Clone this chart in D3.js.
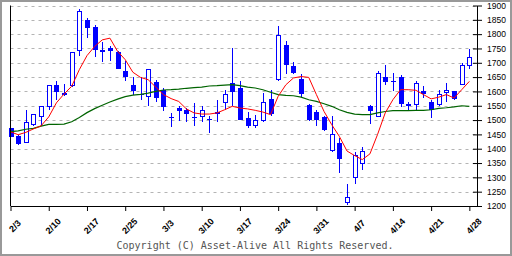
<!DOCTYPE html>
<html>
<head>
<meta charset="utf-8">
<script src="https://cdn.jsdelivr.net/npm/d3@7"></script>
<style>
  body { margin: 0; background: #fff; }
  svg { display: block; }
</style>
</head>
<body>
<div id="chart"></div>
<script>
// daily candles, 2/3 .. 4/28 (one slot per weekday)
const open  = [1473,1445,1420,1486,1514,1549,1623,1595,1619,1744,1850,1826,1746,1753,1738,1672,1624,1590,1581,1632,
               1604,1511,1543,1536,1511,1511,1504,1522,1560,1629,1612,1506,1481,1500,1575,1640,1763,1690,1644,1554,
               1529,1511,1394,1420,1213,1301,1347,1550,1511,1651,1637,1651,1557,1556,1602,1564,1556,1595,1602,1623,1689]
const high  = [1474,1447,1536,1522,1550,1620,1638,1627,1738,1889,1857,1832,1771,1759,1740,1705,1652,1652,1679,1640,
               1612,1525,1550,1543,1561,1550,1515,1571,1604,1751,1637,1529,1519,1596,1606,1827,1777,1704,1661,1556,
               1536,1515,1515,1438,1278,1390,1407,1551,1671,1693,1663,1658,1562,1637,1619,1570,1605,1628,1603,1699,1749]
const low   = [1440,1413,1419,1478,1480,1534,1571,1585,1615,1722,1785,1720,1704,1707,1678,1635,1588,1571,1548,1563,
               1533,1476,1498,1492,1480,1495,1454,1494,1536,1548,1500,1473,1471,1492,1513,1638,1661,1662,1580,1498,
               1480,1463,1390,1314,1203,1276,1324,1486,1510,1622,1602,1544,1530,1536,1577,1506,1548,1564,1570,1622,1677]
const close = [1441,1415,1490,1521,1549,1619,1597,1586,1737,1880,1823,1746,1736,1742,1680,1649,1602,1587,1678,1576,
               1544,1511,1530,1520,1511,1535,1504,1525,1591,1597,1500,1478,1500,1560,1522,1795,1694,1663,1590,1499,
               1499,1464,1448,1363,1228,1376,1392,1532,1661,1633,1632,1556,1548,1626,1592,1536,1589,1602,1574,1689,1717]

// moving averages (short = red, long = green)
const maShort = [1459,1449,1457,1469,1480,1511,1560,1591,1618,1676,1725,1757,1780,1786,1740,1711,1667,1649,1641,1615,
                 1589,1575,1565,1539,1525,1521,1521,1525,1536,1548,1542,1539,1534,1528,1519,1583,1623,1647,1652,1649,
                 1589,1530,1484,1443,1392,1376,1362,1382,1450,1525,1571,1606,1606,1604,1589,1574,1580,1589,1577,1606,1635]
const maLong  = [1460,1462,1468,1471,1479,1485,1485,1486,1494,1509,1526,1540,1552,1563,1573,1582,1587,1590,1594,1600,
                 1605,1606,1608,1611,1613,1615,1619,1620,1622,1624,1620,1615,1612,1606,1597,1589,1586,1585,1580,1571,
                 1565,1557,1548,1536,1527,1521,1519,1519,1525,1530,1533,1533,1533,1534,1534,1536,1541,1543,1546,1550,1548]

const tickLabels = ["2/3","2/10","2/17","2/25","3/3","3/10","3/17","3/24","3/31","4/7","4/14","4/21","4/28"]
const priceTicks = d3.range(1200, 1901, 50)

const WIDTH = 512
const HEIGHT = 256
const plot = {left: 10.5, right: 477, top: 5.5, bottom: 206}

const svg = d3.select("#chart")
    .append("svg")
    .attr("width", WIDTH)
    .attr("height", HEIGHT)

svg.append("rect")
    .attr("x", 1).attr("y", 1)
    .attr("width", WIDTH - 2).attr("height", HEIGHT - 2)
    .attr("fill", "#fff")
    .attr("stroke", "#999")
    .attr("stroke-width", 2)

const x = d3.scaleLinear()
    .domain([0, close.length])
    .range([plot.left, plot.right])

const y = d3.scaleLinear()
    .domain([1200, 1900])
    .range([plot.bottom, plot.top])

// dashed grid
svg.append("g")
    .selectAll("line")
    .data(priceTicks.slice(1))
    .enter()
    .append("line")
    .attr("x1", plot.left)
    .attr("x2", plot.right)
    .attr("y1", d => Math.round(y(d)) + 0.5)
    .attr("y2", d => Math.round(y(d)) + 0.5)
    .attr("stroke", "#b4b4b4")
    .attr("stroke-dasharray", "3,4")

// candles
const candles = svg.append("g").attr("shape-rendering", "crispEdges")
const idx = d3.range(close.length)

candles.selectAll(".wick")
    .data(idx)
    .enter()
    .append("line")
    .attr("class", "wick")
    .attr("x1", i => Math.round(x(i)) + 0.5)
    .attr("x2", i => Math.round(x(i)) + 0.5)
    .attr("y1", i => y(high[i]))
    .attr("y2", i => y(low[i]))
    .attr("stroke", "#0000ff")

candles.selectAll(".body")
    .data(idx)
    .enter()
    .append("rect")
    .attr("class", "body")
    .attr("x", i => Math.round(x(i)) - 2 + (close[i] > open[i] ? 0.5 : 0))
    .attr("y", i => y(Math.max(open[i], close[i])))
    .attr("width", i => close[i] > open[i] ? 4 : 5)
    .attr("height", i => Math.max(1, Math.abs(y(open[i]) - y(close[i]))))
    .attr("fill", i => close[i] > open[i] ? "#fff" : "#0000ff")
    .attr("stroke", i => close[i] > open[i] ? "#0000ff" : "none")

// moving averages
const line = d3.line()
    .x((d, i) => x(i))
    .y(d => y(d))

svg.append("path")
    .datum(maLong)
    .attr("d", line)
    .attr("fill", "none")
    .attr("stroke", "#006400")
    .attr("stroke-width", 1.2)

svg.append("path")
    .datum(maShort)
    .attr("d", line)
    .attr("fill", "none")
    .attr("stroke", "#ff0000")
    .attr("stroke-width", 1)

// left border line
svg.append("line")
    .attr("x1", plot.left).attr("x2", plot.left)
    .attr("y1", plot.top).attr("y2", plot.bottom)
    .attr("stroke", "#000")

// bottom axis
const xAxis = d3.axisBottom(x)
    .tickValues(d3.range(0, close.length, 5))
    .tickSize(5)
    .tickSizeOuter(0)
    .tickFormat((d, i) => tickLabels[i])

const gx = svg.append("g")
    .attr("transform", "translate(0," + plot.bottom + ")")
    .call(xAxis)

gx.selectAll("text")
    .attr("x", 0)
    .attr("y", 0)
    .attr("dy", "0.35em")
    .attr("text-anchor", "middle")
    .attr("transform", "translate(4,20) rotate(-45)")
    .attr("font-family", "Liberation Sans, Arial, sans-serif")
    .attr("font-size", "9px")
    .attr("font-weight", "bold")
    .attr("fill", "#000")

// right axis
const yAxis = d3.axisRight(y)
    .tickValues(priceTicks)
    .tickSize(5)
    .tickSizeOuter(0)
    .tickFormat(d3.format("d"))

const gy = svg.append("g")
    .attr("transform", "translate(" + plot.right + ",0)")
    .call(yAxis)

gy.selectAll(".tick line").attr("x1", -4)
gy.selectAll("text")
    .attr("x", 10)
    .attr("font-family", "Liberation Sans, Arial, sans-serif")
    .attr("font-size", "8.5px")
    .attr("fill", "#000")

svg.selectAll(".domain").attr("stroke", "#000")

svg.append("text")
    .attr("x", 255)
    .attr("y", 249)
    .attr("text-anchor", "middle")
    .attr("font-family", "DejaVu Sans Mono, monospace")
    .attr("font-size", "10px")
    .attr("fill", "#555")
    .text("Copyright (C) Asset-Alive All Rights Reserved.")
</script>
</body>
</html>
